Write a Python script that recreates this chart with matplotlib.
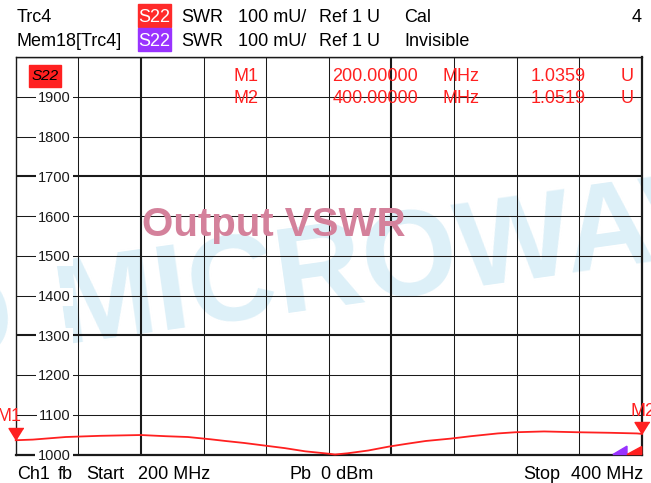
import matplotlib
matplotlib.use("Agg")
import matplotlib.pyplot as plt
from matplotlib.transforms import blended_transform_factory
from matplotlib.patches import Rectangle

# ---------------- data ----------------
freq_mhz = [200, 205.5, 216, 227, 240, 248, 255, 262, 267, 273, 279, 286, 292.5,
            300, 302, 306, 312.6, 319.3, 325, 331, 339, 345.4, 354, 359.7, 368.8,
            379.4, 390, 398.5, 400]
swr_mu = [1035.9, 1037.5, 1044, 1047, 1049, 1046, 1044, 1038.5, 1034, 1029, 1023,
          1016, 1008, 1002, 1000, 1003, 1010, 1020, 1027, 1034, 1040, 1046, 1053,
          1056, 1058, 1056, 1054.6, 1053, 1051.9]

y_ticks = [1000, 1100, 1200, 1300, 1400, 1500, 1600, 1700, 1800, 1900]
y_tick_labels = ["1000", "1100", "1200", "1300", "1400", "1500", "1600", "1700", "1800", "1900"]
x_grid = [200, 220, 240, 260, 280, 300, 320, 340, 360, 380, 400]
thick_x = [240, 320]
thick_y = [1300, 1700]

marker_names = ["M1", "M2"]
marker_freq = [200, 400]
marker_swr = [1035.9, 1051.9]
marker_freq_txt = ["200.00000", "400.00000"]
marker_val_txt = ["1.0359", "1.0519"]

# small off-scale tails in the lower right corner (memory trace / trace)
mem_tail_freq = [390.8, 395.3, 395.3]
mem_tail_swr = [1000, 1021, 1000]
trc_tail_freq = [395.3, 400, 400]
trc_tail_swr = [1000, 1020, 1000]

# ---------------- figure ----------------
W, H = 651, 483
fig = plt.figure(figsize=(W / 100, H / 100), dpi=100)
fig.patch.set_facecolor("white")
L, R, B, T = 15.7, 641.7, 454.5, 57.0
ax = fig.add_axes([L / W, 1 - B / H, (R - L) / W, (B - T) / H])
ax.set_xlim(200, 400)
ax.set_ylim(1000, 2000)
ax.set_xticks([])
ax.set_yticks([])
ax.set_facecolor("white")

FONT = "Liberation Sans"
RED = "#ff2020"
DARK = "#1a1a1a"
WM = "#ddf0f8"


def fx(x):
    return x / W


def fy(y):
    return 1 - y / H


# watermark behind grid
ax.text(fx(60), fy(344), "MICROWAVE", transform=fig.transFigure, rotation=8,
        rotation_mode="anchor", ha="left", va="baseline", fontsize=88,
        fontweight="bold", family=FONT, color=WM, zorder=0.5)
ax.text(fx(18), fy(352), "D", transform=fig.transFigure, rotation=8,
        rotation_mode="anchor", ha="right", va="baseline", fontsize=88,
        fontweight="bold", family=FONT, color=WM, zorder=0.5)

# grid
for xv in x_grid[1:-1]:
    ax.axvline(xv, color=DARK, lw=1.5 if xv in thick_x else 0.75, zorder=1)
for yv in y_ticks[1:]:
    ax.axhline(yv, color=DARK, lw=1.5 if yv in thick_y else 0.75, zorder=1)
ax.axhline(2000, color=DARK, lw=1.0, zorder=1)

for s in ax.spines.values():
    s.set_color(DARK)
ax.spines["left"].set_linewidth(1.0)
ax.spines["top"].set_linewidth(1.0)
ax.spines["right"].set_linewidth(1.6)
ax.spines["bottom"].set_linewidth(1.6)

# y tick labels with white gap
tr = blended_transform_factory(fig.transFigure, ax.transData)
for v, lab in zip(y_ticks, y_tick_labels):
    ax.text(fx(70.5), v, lab, transform=tr, ha="right", va="center_baseline",
            fontsize=10.5, family=FONT, color=DARK, zorder=6, clip_on=False,
            bbox=dict(boxstyle="square,pad=0.15", fc="white", ec="none"))

# "Output VSWR" overlay
ax.text(fx(142.5), fy(236), "Output VSWR", transform=fig.transFigure, ha="left",
        va="baseline", fontsize=29, fontweight="bold", family=FONT,
        color="#d4819b", zorder=3)

# trace
ax.plot(freq_mhz, swr_mu, color=RED, lw=1.3, zorder=4, clip_on=False)
ax.fill(mem_tail_freq, mem_tail_swr, color="#9933ff", zorder=4, clip_on=False)
ax.fill(trc_tail_freq, trc_tail_swr, color=RED, zorder=4, clip_on=False)

# marker triangles (tip on trace)
tri = [(0, 0), (-0.62, 1), (0.62, 1)]
ax.plot(marker_freq, marker_swr, ls="none", marker=tri, markersize=17.3,
        color=RED, zorder=7, clip_on=False)
fig.text(fx(22), fy(421), marker_names[0], ha="right", va="baseline",
         fontsize=13, family=FONT, color=RED)
fig.text(fx(630), fy(416), marker_names[1], ha="left", va="baseline",
         fontsize=13, family=FONT, color=RED)

# S22 tag inside the diagram
fig.add_artist(Rectangle((fx(29), fy(87)), 32 / W, 22 / H, transform=fig.transFigure,
                         color="#ff2020", zorder=5))
fig.text(fx(45), fy(76), "S22", ha="center", va="center", fontsize=11,
         family=FONT, style="italic", color="black", zorder=6)

# marker table
for i in range(2):
    yb = [81, 103.3][i]
    fig.text(fx(233), fy(yb), marker_names[i], ha="left", va="baseline",
             fontsize=13, family=FONT, color=RED)
    fig.text(fx(332.5), fy(yb), marker_freq_txt[i], ha="left", va="baseline",
             fontsize=13, family=FONT, color=RED)
    fig.text(fx(443), fy(yb), "MHz", ha="left", va="baseline",
             fontsize=13, family=FONT, color=RED)
    fig.text(fx(586), fy(yb), marker_val_txt[i], ha="right", va="baseline",
             fontsize=13, family=FONT, color=RED)
    fig.text(fx(620.5), fy(yb), "U", ha="left", va="baseline",
             fontsize=13, family=FONT, color=RED)

# header
hdr = dict(ha="left", va="baseline", fontsize=13, family=FONT, color="black")
fig.add_artist(Rectangle((fx(137.5), fy(26.7)), 33.3 / W, 22.7 / H,
                         transform=fig.transFigure, color="#ff2a2a"))
fig.add_artist(Rectangle((fx(137.5), fy(50.7)), 33.3 / W, 22.7 / H,
                         transform=fig.transFigure, color="#9933ff"))
for yb, first, last in [(21.7, "Trc4", "Cal"), (45.7, "Mem18[Trc4]", "Invisible")]:
    fig.text(fx(16.7), fy(yb), first, **hdr)
    fig.text(fx(154), fy(yb), "S22", ha="center", va="baseline", fontsize=13,
             family=FONT, color="white", zorder=5)
    fig.text(fx(181), fy(yb), "SWR", **hdr)
    fig.text(fx(238), fy(yb), "100 mU/", **hdr)
    fig.text(fx(319), fy(yb), "Ref 1 U", **hdr)
    fig.text(fx(404), fy(yb), last, **hdr)
fig.text(fx(641.5), fy(21.7), "4", ha="right", va="baseline", fontsize=13,
         family=FONT, color="black")

# footer
yb = 479.3
fig.text(fx(17.5), fy(yb), "Ch1", **hdr)
fig.text(fx(58), fy(yb), "fb", **hdr)
fig.text(fx(86.7), fy(yb), "Start", **hdr)
fig.text(fx(137.5), fy(yb), "200 MHz", **hdr)
fig.text(fx(289.6), fy(yb), "Pb", **hdr)
fig.text(fx(320.8), fy(yb), "0 dBm", **hdr)
fig.text(fx(523), fy(yb), "Stop", **hdr)
fig.text(fx(571), fy(yb), "400 MHz", **hdr)

fig.savefig("out.png", dpi=100)
